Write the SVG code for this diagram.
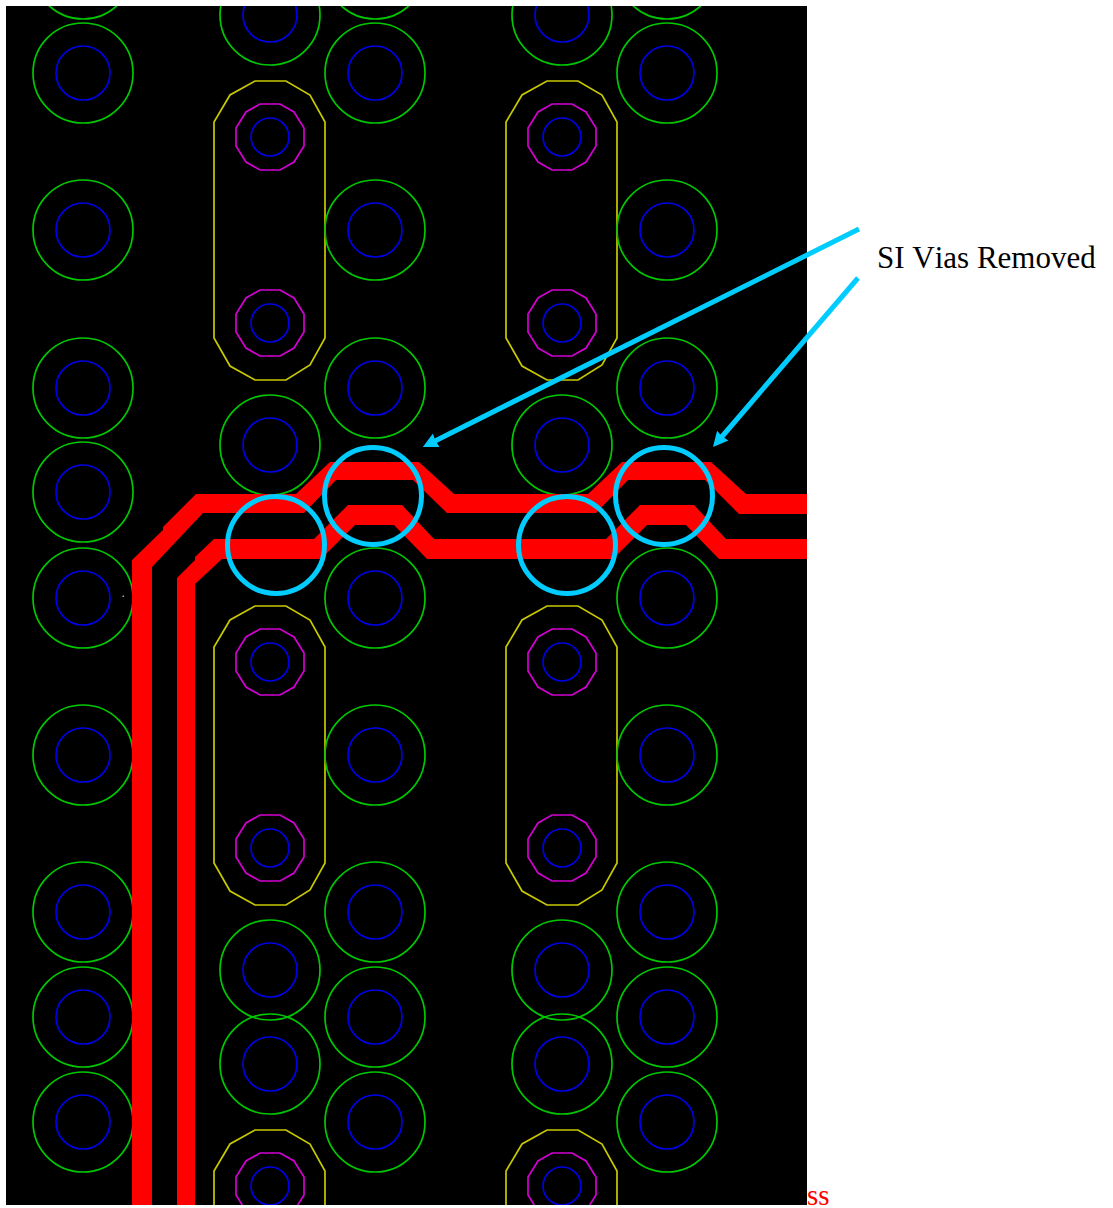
<svg xmlns="http://www.w3.org/2000/svg" xmlns:xlink="http://www.w3.org/1999/xlink" width="1113" height="1208" viewBox="0 0 1113 1208">
<style>
.pad{fill:none;stroke:#00c800;stroke-width:1.7}
.hole{fill:none;stroke:#0000e6;stroke-width:1.7}
.slot{fill:none;stroke:#c8c800;stroke-width:1.7}
.ring{fill:none;stroke:#d200d2;stroke-width:1.7}
.trace{fill:#ff0000}
.mark{fill:none;stroke:#00ccff;stroke-width:5}
.lead{fill:none;stroke:#00ccff;stroke-width:5}
</style>
<defs>
<clipPath id="board"><rect x="6" y="6" width="801" height="1199"/></clipPath>
<marker id="head" markerUnits="userSpaceOnUse" markerWidth="24" markerHeight="20" viewBox="0 0 24 20" refX="7" refY="10" orient="auto"><path d="M0,2.5 L15,10 L0,17.5 L1,10 Z" fill="#00ccff"/></marker>
<g id="via"><circle class="pad" r="50"/><circle class="hole" r="27"/></g>
<g id="slotvia"><polygon class="ring" points="-10,-33 10,-33 24,-25 34,-9 34,9 24,25 10,33 -10,33 -24,25 -34,9 -34,-9 -24,-25"/><circle class="hole" r="19"/></g>
<g id="oblong"><path class="slot" d="M-15,-149 H16 L40,-135 L55,-108 V108 L40,135 L16,150 H-15 L-40,136 L-56,108 V-108 L-40,-135 Z"/><use href="#slotvia" y="-93"/><use href="#slotvia" y="93"/></g>
</defs>
<rect width="1113" height="1208" fill="#ffffff"/>
<rect id="board-bg" x="6" y="6" width="801" height="1199" fill="#000000"/>
<g clip-path="url(#board)">
<g id="vias-col1">
<g id="v1a"><use href="#via" x="83" y="-31"/></g>
<g id="v1b"><use href="#via" x="83" y="73"/></g>
<g id="v1c"><use href="#via" x="83" y="230"/></g>
<g id="v1d"><use href="#via" x="83" y="388"/></g>
<g id="v1e"><use href="#via" x="83" y="492"/></g>
<g id="v1f"><use href="#via" x="83" y="598"/></g>
<g id="v1g"><use href="#via" x="83" y="755"/></g>
<g id="v1h"><use href="#via" x="83" y="912"/></g>
<g id="v1i"><use href="#via" x="83" y="1017"/></g>
<g id="v1j"><use href="#via" x="83" y="1122"/></g>
</g>
<g id="vias-col2">
<g id="v2a"><use href="#via" x="270" y="15"/></g>
<g id="s2a"><use href="#oblong" x="270" y="230"/></g>
<g id="v2b"><use href="#via" x="270" y="445"/></g>
<g id="s2b"><use href="#oblong" x="270" y="755"/></g>
<g id="v2c"><use href="#via" x="270" y="970"/></g>
<g id="v2d"><use href="#via" x="270" y="1064"/></g>
<g id="s2c"><use href="#oblong" x="270" y="1279"/></g>
</g>
<g id="vias-col3">
<g id="v3a"><use href="#via" x="375" y="-31"/></g>
<g id="v3b"><use href="#via" x="375" y="73"/></g>
<g id="v3c"><use href="#via" x="375" y="230"/></g>
<g id="v3d"><use href="#via" x="375" y="388"/></g>
<g id="v3f"><use href="#via" x="375" y="598"/></g>
<g id="v3g"><use href="#via" x="375" y="755"/></g>
<g id="v3h"><use href="#via" x="375" y="912"/></g>
<g id="v3i"><use href="#via" x="375" y="1017"/></g>
<g id="v3j"><use href="#via" x="375" y="1122"/></g>
</g>
<g id="vias-col4">
<g id="v4a"><use href="#via" x="562" y="15"/></g>
<g id="s4a"><use href="#oblong" x="562" y="230"/></g>
<g id="v4b"><use href="#via" x="562" y="445"/></g>
<g id="s4b"><use href="#oblong" x="562" y="755"/></g>
<g id="v4c"><use href="#via" x="562" y="970"/></g>
<g id="v4d"><use href="#via" x="562" y="1064"/></g>
<g id="s4c"><use href="#oblong" x="562" y="1279"/></g>
</g>
<g id="vias-col5">
<g id="v5a"><use href="#via" x="667" y="-31"/></g>
<g id="v5b"><use href="#via" x="667" y="73"/></g>
<g id="v5c"><use href="#via" x="667" y="230"/></g>
<g id="v5d"><use href="#via" x="667" y="388"/></g>
<g id="v5f"><use href="#via" x="667" y="598"/></g>
<g id="v5g"><use href="#via" x="667" y="755"/></g>
<g id="v5h"><use href="#via" x="667" y="912"/></g>
<g id="v5i"><use href="#via" x="667" y="1017"/></g>
<g id="v5j"><use href="#via" x="667" y="1122"/></g>
</g>
<rect id="speck" x="122.5" y="595.5" width="1.5" height="1.5" fill="#aaaaaa"/>
<g id="connectors">
<path id="trace-upper" class="trace" d="M132,1205 V560 L163,530 V527 L196,494 H296 L330,462 H419 L454,494 H588 L622,462 H711 L746,494 H807 V514 H739 L705,480 H628 L596,513 H447 L413,480 H336 L304,513 H203 L152,567 V1205 Z"/>
<path id="trace-lower" class="trace" d="M177,1205 V578 L195,560 V557 L214,539 H314 L348,505 H402 L434,539 H606 L640,505 H694 L726,539 H807 V559 H719 L686,525 H647 L613,559 H427 L394,525 H355 L321,559 H222 L195,584 V1205 Z"/>
</g>
</g>
<g id="markers">
<circle id="mark-1" class="mark" cx="373" cy="496" r="48.5"/>
<circle id="mark-2" class="mark" cx="276" cy="545" r="48.5"/>
<circle id="mark-3" class="mark" cx="664" cy="496" r="48.5"/>
<circle id="mark-4" class="mark" cx="567" cy="545" r="48.5"/>
</g>
<g id="callouts">
<line id="lead-1" class="lead" x1="859" y1="229" x2="430" y2="443.4" marker-end="url(#head)"/>
<line id="lead-2" class="lead" x1="858" y1="278" x2="718.2" y2="441" marker-end="url(#head)"/>
</g>
<g id="label"><text x="877" y="268" font-family="'Liberation Serif',serif" font-size="31" style="font-kerning:none" fill="#000000">SI Vias Removed</text></g>
<g id="note"><text x="807" y="1205" font-family="'Liberation Serif',serif" font-size="29" fill="#ff0000">ss</text></g>
</svg>
